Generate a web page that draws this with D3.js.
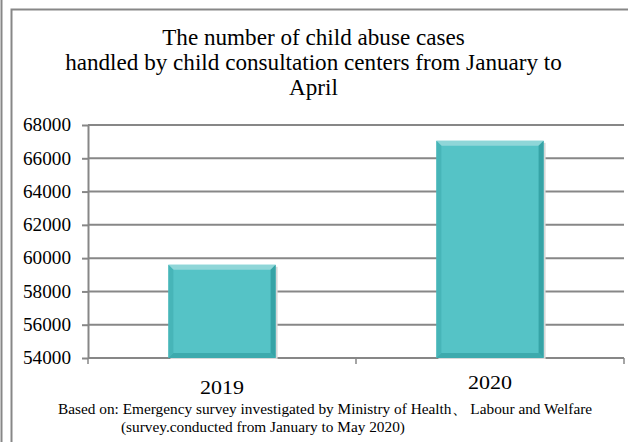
<!DOCTYPE html>
<html><head><meta charset="utf-8">
<script src="https://cdn.jsdelivr.net/npm/d3@7"></script>
<style>html,body{margin:0;padding:0;background:#fff;overflow:hidden}</style>
</head><body>
<svg id="c" width="628" height="442"></svg>
<script>
const categories = ["2019", "2020"];
const values = [59600, 67050];
const yTicks = [54000, 56000, 58000, 60000, 62000, 64000, 66000, 68000];
const titleLines = ["The number of child abuse cases", "handled by child consultation centers from January to", "April"];
const sourceLines = ["Based on: Emergency survey investigated by Ministry of Health、 Labour and Welfare", "(survey.conducted from January to May 2020)"];

const svg = d3.select("#c");
const font = "'Liberation Serif','DejaVu Serif',serif";
const grid = "#878787";

// outer frames
svg.append("line").attr("x1",1.5).attr("x2",1.5).attr("y1",0).attr("y2",442).attr("stroke",grid).attr("stroke-width",2);
svg.append("path").attr("d","M11.5,442 V9.5 H628").attr("fill","none").attr("stroke",grid).attr("stroke-width",2);

const x = d3.scaleBand().domain(categories).range([88, 624]).paddingInner(0).paddingOuter(0);
const y = d3.scaleLinear().domain([54000, 68000]).range([358, 125]);

// gridlines
svg.append("g").selectAll("line").data(yTicks.slice(1)).join("line")
  .attr("x1",88).attr("x2",624).attr("y1",d=>y(d)).attr("y2",d=>y(d))
  .attr("stroke",grid).attr("stroke-width",2);

// y axis
const ya = svg.append("g").attr("transform","translate(88,0)")
  .call(d3.axisLeft(y).tickValues(yTicks).tickSize(6).tickSizeOuter(0).tickFormat(d3.format("d")).tickPadding(10));
ya.attr("font-family",font);
ya.select(".domain").attr("stroke",grid).attr("stroke-width",2);
ya.selectAll(".tick line").attr("stroke",grid).attr("stroke-width",2);
ya.selectAll("text").attr("font-family",font).attr("font-size",18).attr("fill","#000")
  .attr("textLength",48).attr("lengthAdjust","spacingAndGlyphs").attr("x",-65).attr("text-anchor","start");

// x axis
svg.append("line").attr("x1",88).attr("x2",624).attr("y1",358).attr("y2",358).attr("stroke",grid).attr("stroke-width",2);
const xt = [88, x("2020"), 624];
svg.append("g").selectAll("line").data(xt).join("line")
  .attr("x1",d=>d).attr("x2",d=>d).attr("y1",358).attr("y2",364).attr("stroke",grid).attr("stroke-width",1.5);

// bars
const bw = x.bandwidth()*0.4;
const bars = svg.append("g").selectAll("g").data(categories).join("g");
bars.each(function(c,i){
  const g = d3.select(this);
  const x0 = x(c) + (x.bandwidth()-bw)/2, x1 = x0 + bw;
  const y0 = y(values[i]), y1 = y(54000);
  const b = 5;
  g.append("rect").attr("x",x0+2).attr("y",y0+2).attr("width",bw).attr("height",y1-y0-1).attr("fill","#d8d8d8");
  g.append("rect").attr("x",x0).attr("y",y0).attr("width",bw).attr("height",y1-y0).attr("fill","#55C3C6");
  g.append("polygon").attr("points",`${x0},${y0} ${x1},${y0} ${x1-b},${y0+b} ${x0+b},${y0+b}`).attr("fill","#8FD6D8");
  g.append("polygon").attr("points",`${x0},${y0} ${x0+b},${y0+b} ${x0+b},${y1-b} ${x0},${y1}`).attr("fill","#47B5B8");
  g.append("polygon").attr("points",`${x1},${y0} ${x1-b},${y0+b} ${x1-b},${y1-b} ${x1},${y1}`).attr("fill","#36A3A6");
  g.append("polygon").attr("points",`${x0},${y1} ${x0+b},${y1-b} ${x1-b},${y1-b} ${x1},${y1}`).attr("fill","#3DAAAD");
});

// category labels
const labY = [394, 389];
svg.append("g").selectAll("text").data(categories).join("text")
  .attr("x",d=>x(d)+x.bandwidth()/2).attr("y",(d,i)=>labY[i])
  .attr("text-anchor","middle").attr("font-family",font).attr("font-size",19).attr("fill","#000")
  .attr("textLength",44).attr("lengthAdjust","spacingAndGlyphs").text(d=>d);

// fit a font size so that the reference line gets the target width
function fitSize(sel, refIndex, target, base){
  const n = sel.nodes()[refIndex];
  const len = n.getComputedTextLength();
  const s = base*target/len;
  sel.attr("font-size", s);
}

// title
const tt = svg.append("g").selectAll("text").data(titleLines).join("text")
  .attr("x",313.5).attr("y",(d,i)=>45+i*25).attr("text-anchor","middle")
  .attr("font-family",font).attr("font-size",20).attr("fill","#000").text(d=>d);
fitSize(tt, 1, 497, 20);

// source
const st = svg.append("g").selectAll("text").data(sourceLines).join("text")
  .attr("x",(d,i)=>i===0?58:121).attr("y",(d,i)=>414+i*18).attr("text-anchor","start")
  .attr("font-family",font).attr("font-size",14).attr("fill","#000").text(d=>d);
fitSize(st, 0, 535, 14);
</script>
</body></html>
